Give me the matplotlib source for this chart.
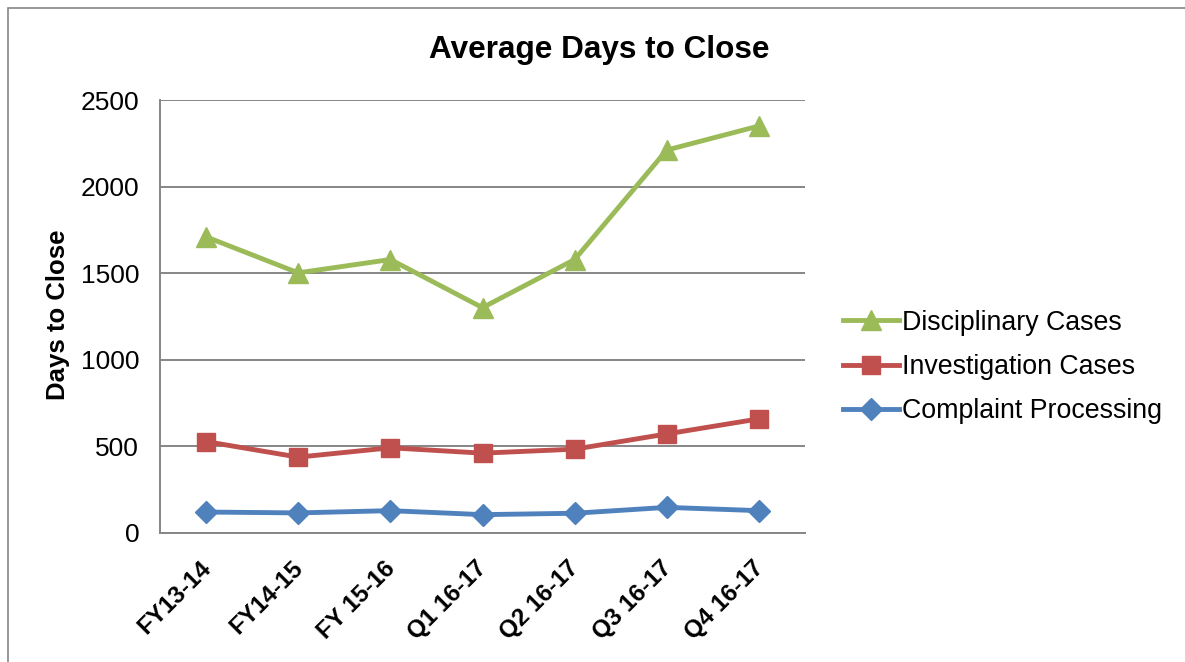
import matplotlib
matplotlib.use("Agg")
import matplotlib.pyplot as plt
import matplotlib.transforms as mtransforms
from matplotlib.patches import Rectangle

plt.rcParams['font.family'] = ['Liberation Sans', 'DejaVu Sans']

periods = ['FY13-14', 'FY14-15', 'FY 15-16', 'Q1 16-17', 'Q2 16-17', 'Q3 16-17', 'Q4 16-17']
disciplinary = [1710, 1502, 1579, 1301, 1579, 2211, 2350]
investigation = [528, 438, 492, 461, 484, 572, 659]
complaint = [121, 116, 129, 106, 114, 148, 129]

fig = plt.figure(figsize=(11.85, 6.62), dpi=100)
ax = fig.add_axes([160/1185, 1-533/662, 645/1185, 433/662])

# outer chart border
fig.patches.append(Rectangle((8/1185, -0.1), 1.2, 1 - 8/662 + 0.1, transform=fig.transFigure,
                             fill=False, ec='#868686', lw=1.2))

x = range(len(periods))
ax.plot(x, disciplinary, color='#9BBB59', lw=3.5, marker='^', ms=14.5, label='Disciplinary Cases')
ax.plot(x, investigation, color='#C0504D', lw=3.5, marker='s', ms=13, label='Investigation Cases')
ax.plot(x, complaint, color='#4F81BD', lw=3.5, marker='D', ms=11.5, label='Complaint Processing')

ax.set_xlim(-0.5, len(periods) - 0.5)
ax.set_ylim(0, 2500)
ax.set_yticks(range(0, 2501, 500))
ax.yaxis.grid(True, color='#868686', lw=1.4)
ax.set_axisbelow(True)
for s in ['top', 'right']:
    ax.spines[s].set_visible(False)
for s in ['left', 'bottom']:
    ax.spines[s].set_color('#868686')
    ax.spines[s].set_linewidth(1.4)

ax.set_xticks(list(x))
ax.set_xticklabels(periods, rotation=45, ha='right', rotation_mode='anchor',
                   fontsize=17.5, fontweight='bold')
ax.tick_params(axis='x', length=0, pad=17)
ax.tick_params(axis='y', length=0, pad=15, labelsize=19)
shift = mtransforms.ScaledTranslation(-7/100, 0, fig.dpi_scale_trans)
for lab in ax.get_xticklabels():
    lab.set_transform(lab.get_transform() + shift)

fig.text(58/1185, 1-315/662, 'Days to Close', rotation=90, ha='center', va='center',
         fontsize=18.5, fontweight='bold')
fig.text(599/1185, 1-50/662, 'Average Days to Close', ha='center', va='center',
         fontsize=22.7, fontweight='bold')

ax.legend(loc='center left', bbox_to_anchor=(843/1185, 1-367/662), bbox_transform=fig.transFigure,
          frameon=False, fontsize=19.3, handlelength=2.1, handletextpad=0.1, labelspacing=0.68,
          borderaxespad=0, borderpad=0)

fig.savefig('out.png', dpi=100)
